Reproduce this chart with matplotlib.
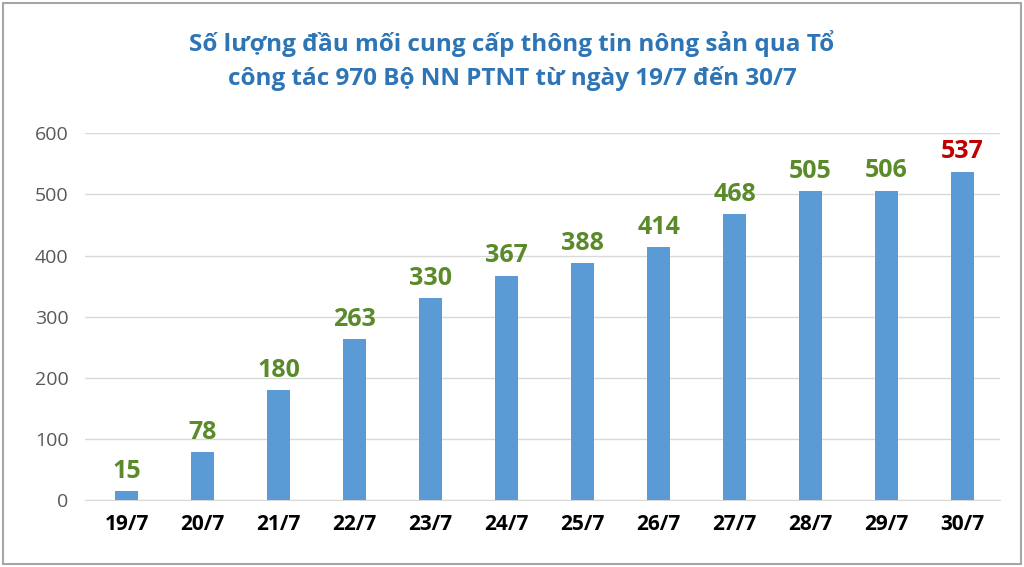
import matplotlib
matplotlib.use("Agg")
import matplotlib.pyplot as plt
from matplotlib.patches import Rectangle

plt.rcParams['font.family'] = ['Open Sans', 'DejaVu Sans']

dates = ["19/7", "20/7", "21/7", "22/7", "23/7", "24/7", "25/7", "26/7", "27/7", "28/7", "29/7", "30/7"]
counts = [15, 78, 180, 263, 330, 367, 388, 414, 468, 505, 506, 537]
title = "Số lượng đầu mối cung cấp thông tin nông sản qua Tổ\ncông tác 970 Bộ NN PTNT từ ngày 19/7 đến 30/7"

fig = plt.figure(figsize=(10.24, 5.67), dpi=100)
ax = fig.add_axes([0.083, 0.118, 0.894, 0.647])

x = range(len(dates))
ax.bar(x, counts, width=0.3, color="#5B9BD5", zorder=3)
for i, v in enumerate(counts):
    col = "#C00000" if i == len(counts) - 1 else "#5A8A2A"
    ax.text(i, v + 12, str(v), ha="center", va="bottom", fontsize=18,
            fontweight="bold", color=col, clip_on=False)

ax.set_ylim(0, 600)
ax.set_xlim(-0.55, len(dates) - 0.5)
ax.set_yticks(range(0, 601, 100))
ax.tick_params(axis="y", labelsize=14, colors="#595959", length=0, pad=12)
ax.set_xticks(list(x))
ax.set_xticklabels(dates, fontsize=15, fontweight="bold")
ax.tick_params(axis="x", length=0, pad=10)
ax.grid(axis="y", color="#D9D9D9", linewidth=1, zorder=0)
for s in ["top", "right", "left"]:
    ax.spines[s].set_visible(False)
ax.spines["bottom"].set_color("#D9D9D9")

fig.text(0.5, 0.893, title, ha="center", va="center", fontsize=17.5,
         fontweight="bold", color="#2E75B6", linespacing=1.45)
fig.patches.append(Rectangle((0.003, 0.005), 0.994, 0.99, transform=fig.transFigure,
                             fill=False, edgecolor="#A6A6A6", linewidth=1.5))

fig.savefig("out.png", dpi=100)
